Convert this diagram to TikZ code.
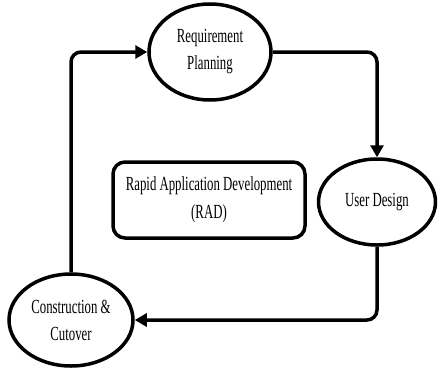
\documentclass[tikz,border=0pt]{standalone}
\usepackage{fontspec}
\setmainfont[FakeStretch=0.64]{Liberation Serif}
\usepackage{tikz}
\usetikzlibrary{shapes.geometric,arrows.meta}
\tikzset{>={Triangle[length=12pt,width=13pt]}}
\tikzset{phase/.style={ellipse, draw, line width=3.5pt, align=center, inner sep=0pt, font=\fontsize{20}{27}\selectfont}}
\tikzset{centrebox/.style={draw, rounded corners=12pt, line width=3.5pt, align=center, inner sep=0pt, font=\fontsize{20}{28}\selectfont}}
\tikzset{flow/.style={->, line width=3.5pt, rounded corners=10pt}}

\begin{document}
\begin{tikzpicture}[x=1pt,y=-1pt]

\useasboundingbox (0,0) rectangle (438,372);

\node[phase, minimum width=122pt, minimum height=96pt] (req) at (210,52) {Requirement\\Planning};
\node[phase, minimum width=117pt, minimum height=86pt] (ud) at (377,202) {User Design};
\node[phase, minimum width=124pt, minimum height=92pt] (cc) at (71,320) {Construction \&\\Cutover};

\node[centrebox, minimum width=192pt, minimum height=76pt] (rad) at (209,200) {Rapid Application Development\\(RAD)};

\draw[flow] (req.east) -| (ud.north);
\draw[flow] (ud.south) |- (cc.east);
\draw[flow] (cc.north) |- (req.west);

\end{tikzpicture}
\end{document}
